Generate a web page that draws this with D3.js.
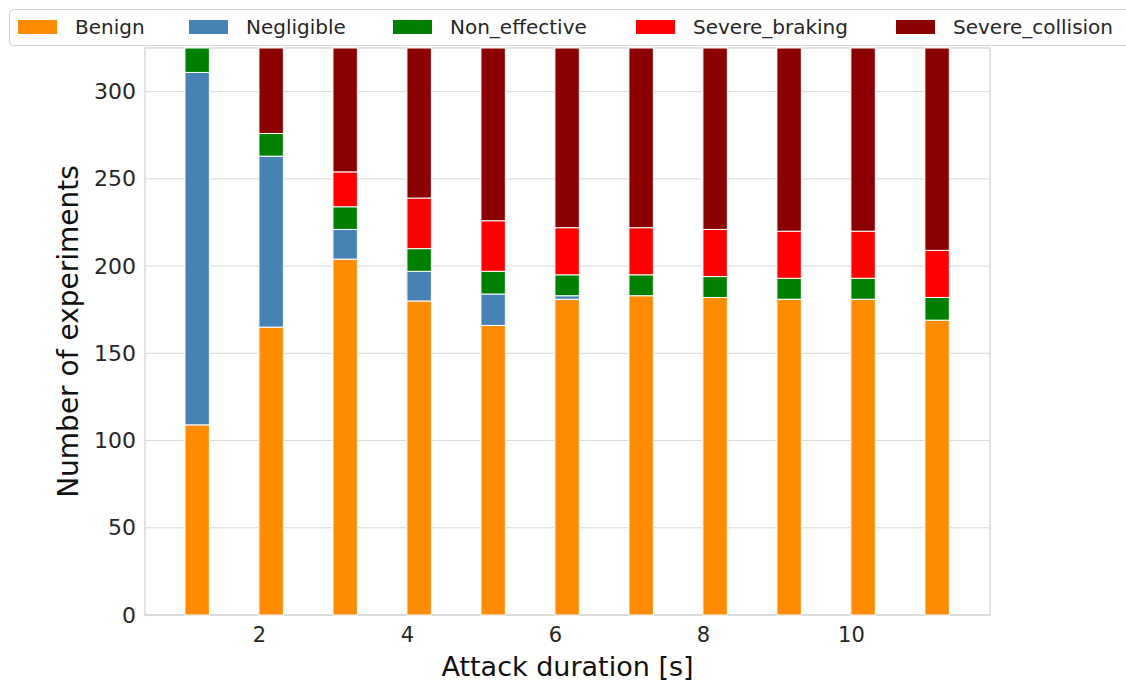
<!DOCTYPE html>
<html>
<head>
<meta charset="utf-8">
<script src="https://cdn.jsdelivr.net/npm/d3@7"></script>
<style>
    body { margin: 0; background: #fff; }
    svg { display: block; font-family: "DejaVu Sans", sans-serif; }
    .tick text { fill: #262626; }
</style>
</head>
<body>
<div id="chart"></div>
<script>

// ---- data ----
const durations = [1, 2, 3, 4, 5, 6, 7, 8, 9, 10, 11];
const categories = ["Benign", "Negligible", "Non_effective", "Severe_braking", "Severe_collision"];
const colors = ["#ff8c00", "#4682b4", "#008000", "#ff0000", "#8b0000"];

const benign          = [109, 165, 204, 180, 166, 181, 183, 182, 181, 181, 169];
const negligible      = [202,  98,  17,  17,  18,   2,   0,   0,   0,   0,   0];
const nonEffective    = [ 14,  13,  13,  13,  13,  12,  12,  12,  12,  12,  13];
const severeBraking   = [  0,   0,  20,  29,  29,  27,  27,  27,  27,  27,  27];
const severeCollision = [  0,  49,  71,  86,  99, 103, 103, 104, 105, 105, 116];

const xTicks = [2, 4, 6, 8, 10];
const yTicks = [0, 50, 100, 150, 200, 250, 300];

// ---- setup ----
const width = 1126;
const height = 681;
const margin = {top: 48, left: 145, right: 136, bottom: 66};
const plotWidth = width - margin.left - margin.right;
const plotHeight = height - margin.top - margin.bottom;

const svg = d3.select("#chart")
    .append("svg")
    .attr("width", width)
    .attr("height", height);

// build stacked table
const rows = durations.map((d, i) => ({
    duration: d,
    Benign: benign[i],
    Negligible: negligible[i],
    Non_effective: nonEffective[i],
    Severe_braking: severeBraking[i],
    Severe_collision: severeCollision[i]
}));
const stacked = d3.stack().keys(categories)(rows);

// ---- scales ----
const barWidth = 0.33;
const xScale = d3.scaleLinear()
    .domain([0.46, 11.88])
    .range([margin.left, margin.left + plotWidth]);

const yScale = d3.scaleLinear()
    .domain([0, 325])
    .range([margin.top + plotHeight, margin.top]);

// ---- grid ----
svg.append("g")
    .attr("class", "grid")
    .selectAll("line.h")
    .data(yTicks)
    .enter()
    .append("line")
    .attr("x1", margin.left)
    .attr("x2", margin.left + plotWidth)
    .attr("y1", d => yScale(d))
    .attr("y2", d => yScale(d))
    .attr("stroke", "#d9d9d9")
    .attr("stroke-width", 1);

svg.select(".grid")
    .selectAll("line.v")
    .data(xTicks)
    .enter()
    .append("line")
    .attr("x1", d => xScale(d))
    .attr("x2", d => xScale(d))
    .attr("y1", margin.top)
    .attr("y2", margin.top + plotHeight)
    .attr("stroke", "#d9d9d9")
    .attr("stroke-width", 1);

// frame
svg.append("rect")
    .attr("x", margin.left)
    .attr("y", margin.top)
    .attr("width", plotWidth)
    .attr("height", plotHeight)
    .attr("fill", "none")
    .attr("stroke", "#d0d0d0")
    .attr("stroke-width", 1.2);

// ---- bars ----
const layers = svg.append("g")
    .selectAll("g")
    .data(stacked)
    .enter()
    .append("g")
    .attr("fill", (d, i) => colors[i]);

layers.selectAll("rect")
    .data(d => d.filter(s => s[1] > s[0]))
    .enter()
    .append("rect")
    .attr("x", d => xScale(d.data.duration))
    .attr("width", xScale(1 + barWidth) - xScale(1))
    .attr("y", d => yScale(d[1]))
    .attr("height", d => yScale(d[0]) - yScale(d[1]))
    .attr("stroke", "#fff")
    .attr("stroke-width", 1);

// ---- axes ----
const xAxis = svg.append("g")
    .attr("transform", `translate(0, ${margin.top + plotHeight})`)
    .call(d3.axisBottom(xScale).tickValues(xTicks).tickSize(0).tickPadding(12));
xAxis.select(".domain").remove();
xAxis.selectAll("text").attr("font-size", 21).attr("font-family", "DejaVu Sans");

const yAxis = svg.append("g")
    .attr("transform", `translate(${margin.left}, 0)`)
    .call(d3.axisLeft(yScale).tickValues(yTicks).tickSize(0).tickPadding(9));
yAxis.select(".domain").remove();
yAxis.selectAll("text").attr("font-size", 22).attr("font-family", "DejaVu Sans");

// axis labels
svg.append("text")
    .attr("x", margin.left + plotWidth / 2)
    .attr("y", 676)
    .attr("text-anchor", "middle")
    .attr("font-size", 27)
    .attr("fill", "#111")
    .text("Attack duration [s]");

svg.append("text")
    .attr("transform", `translate(78, ${margin.top + plotHeight / 2}) rotate(-90)`)
    .attr("text-anchor", "middle")
    .attr("font-size", 28)
    .attr("fill", "#111")
    .text("Number of experiments");

// ---- legend ----
const legend = svg.append("g");

legend.append("rect")
    .attr("x", 9.5)
    .attr("y", 9.5)
    .attr("width", 1125)
    .attr("height", 36)
    .attr("rx", 4)
    .attr("fill", "#fff")
    .attr("fill-opacity", 0.85)
    .attr("stroke", "#d0d0d0");

const legendX = [18, 189, 393, 636, 896];

const items = legend.selectAll(".item")
    .data(categories)
    .enter()
    .append("g")
    .attr("transform", (d, i) => `translate(${legendX[i]}, 20)`);

items.append("rect")
    .attr("width", 39)
    .attr("height", 14)
    .attr("fill", (d, i) => colors[i]);

items.append("text")
    .attr("x", 57)
    .attr("y", 14)
    .attr("font-size", 20)
    .attr("fill", "#262626")
    .text(d => d);

</script>
</body>
</html>
